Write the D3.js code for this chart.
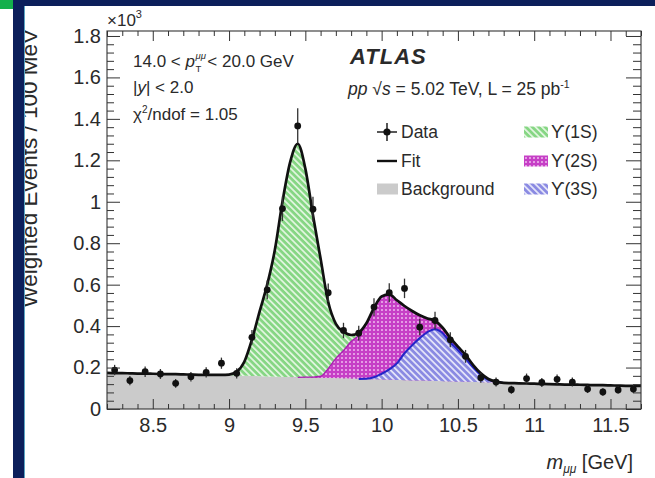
<!DOCTYPE html>
<html>
<head>
<meta charset="utf-8">
<script src="https://cdn.jsdelivr.net/npm/d3@7"></script>
<style>
  body { margin: 0; background: #fff; }
  svg { display: block; }
  text { font-family: "Liberation Sans", Arial, Helvetica, sans-serif; fill: #2a2a2a; }
</style>
</head>
<body>
<svg id="chart" width="655" height="478"></svg>
<script>
// Axis settings
const xDomain = [8.2, 11.7];
const yDomain = [0, 1.824];
const xTicks = [8.5, 9, 9.5, 10, 10.5, 11, 11.5];
const xTickLabels = ["8.5", "9", "9.5", "10", "10.5", "11", "11.5"];
const yTicks = [0, 0.2, 0.4, 0.6, 0.8, 1.0, 1.2, 1.4, 1.6, 1.8];
const yTickLabels = ["0", "0.2", "0.4", "0.6", "0.8", "1", "1.2", "1.4", "1.6", "1.8"];

// Measured dimuon spectrum (x10^3 weighted events per 100 MeV)
const dataMass = [8.25, 8.35, 8.45, 8.55, 8.65, 8.75, 8.85, 8.95, 9.05, 9.15,
                  9.25, 9.35, 9.45, 9.55, 9.65, 9.75, 9.85, 9.95, 10.05, 10.15,
                  10.25, 10.35, 10.45, 10.55, 10.65, 10.75, 10.85, 10.95, 11.05, 11.15,
                  11.25, 11.35, 11.45, 11.55, 11.65];
const dataVal = [0.188, 0.137, 0.180, 0.169, 0.124, 0.156, 0.177, 0.221, 0.172, 0.346,
                 0.575, 0.967, 1.366, 0.964, 0.561, 0.379, 0.366, 0.492, 0.561, 0.582,
                 0.395, 0.427, 0.334, 0.254, 0.151, 0.130, 0.093, 0.147, 0.128, 0.143,
                 0.130, 0.096, 0.082, 0.092, 0.096];
const dataErr = [0.025, 0.022, 0.025, 0.024, 0.021, 0.023, 0.025, 0.027, 0.025, 0.035,
                 0.045, 0.060, 0.085, 0.060, 0.045, 0.037, 0.036, 0.042, 0.046, 0.047,
                 0.039, 0.042, 0.036, 0.031, 0.024, 0.022, 0.019, 0.024, 0.022, 0.023,
                 0.022, 0.019, 0.018, 0.019, 0.019];

// Fit components on a 50 MeV grid
const fitMass = [8.20, 8.25, 8.30, 8.35, 8.40, 8.45, 8.50, 8.55, 8.60, 8.65,
                 8.70, 8.75, 8.80, 8.85, 8.90, 8.95, 9.00, 9.05, 9.10, 9.15,
                 9.20, 9.25, 9.30, 9.35, 9.40, 9.45, 9.50, 9.55, 9.60, 9.65,
                 9.70, 9.75, 9.80, 9.85, 9.90, 9.95, 10.00, 10.05, 10.10, 10.15,
                 10.20, 10.25, 10.30, 10.35, 10.40, 10.45, 10.50, 10.55, 10.60, 10.65,
                 10.70, 10.75, 10.80, 10.85, 10.90, 10.95, 11.00, 11.05, 11.10, 11.15,
                 11.20, 11.25, 11.30, 11.35, 11.40, 11.45, 11.50, 11.55, 11.60, 11.65,
                 11.70];
const bkg = [0.174, 0.173, 0.173, 0.172, 0.171, 0.171, 0.170, 0.169, 0.168, 0.168,
             0.167, 0.166, 0.165, 0.165, 0.164, 0.163, 0.162, 0.161, 0.160, 0.159,
             0.158, 0.157, 0.156, 0.155, 0.154, 0.153, 0.152, 0.151, 0.150, 0.149,
             0.148, 0.147, 0.146, 0.145, 0.144, 0.143, 0.142, 0.141, 0.140, 0.139,
             0.138, 0.137, 0.136, 0.135, 0.134, 0.133, 0.132, 0.131, 0.130, 0.129,
             0.128, 0.127, 0.126, 0.125, 0.124, 0.123, 0.122, 0.121, 0.120, 0.119,
             0.118, 0.118, 0.117, 0.116, 0.115, 0.115, 0.114, 0.113, 0.112, 0.112,
             0.111];
const ups1S = [0, 0, 0, 0, 0, 0, 0, 0, 0, 0,
               0, 0, 0, 0, 0.001, 0.002, 0.004, 0.019, 0.068, 0.176,
               0.312, 0.443, 0.611, 0.845, 1.036, 1.127, 1.006, 0.781, 0.567, 0.321,
               0.167, 0.091, 0.031, 0.014, 0.004, 0.001, 0, 0, 0, 0,
               0, 0, 0, 0, 0, 0, 0, 0, 0, 0,
               0, 0, 0, 0, 0, 0, 0, 0, 0, 0,
               0, 0, 0, 0, 0, 0, 0, 0, 0, 0,
               0];
const ups2S = [0, 0, 0, 0, 0, 0, 0, 0, 0, 0,
               0, 0, 0, 0, 0, 0, 0, 0, 0, 0,
               0, 0, 0, 0, 0, 0, 0.002, 0.003, 0.008, 0.046,
               0.096, 0.135, 0.180, 0.210, 0.264, 0.334, 0.373, 0.362, 0.305, 0.228,
               0.165, 0.110, 0.066, 0.041, 0.026, 0.022, 0.016, 0.017, 0.012, 0.008,
               0.004, 0.001, 0, 0, 0, 0, 0, 0, 0, 0,
               0, 0, 0, 0, 0, 0, 0, 0, 0, 0,
               0];
const ups3S = [0, 0, 0, 0, 0, 0, 0, 0, 0, 0,
               0, 0, 0, 0, 0, 0, 0, 0, 0, 0,
               0, 0, 0, 0, 0, 0, 0, 0, 0, 0,
               0, 0, 0, 0, 0.002, 0.010, 0.028, 0.050, 0.080, 0.130,
               0.170, 0.205, 0.235, 0.250, 0.232, 0.188, 0.153, 0.113, 0.070, 0.035,
               0.013, 0.004, 0, 0, 0, 0, 0, 0, 0, 0,
               0, 0, 0, 0, 0, 0, 0, 0, 0, 0,
               0];

const svg = d3.select("#chart");
const plot = { left: 107, right: 641, top: 31, bottom: 409 };
const x = d3.scaleLinear(xDomain, [plot.left, plot.right]);
const y = d3.scaleLinear(yDomain, [plot.bottom, plot.top]);

// Hatch patterns
const defs = svg.append("defs");
const p1 = defs.append("pattern").attr("id", "hatch1S").attr("patternUnits", "userSpaceOnUse")
  .attr("width", 4.5).attr("height", 4.5).attr("patternTransform", "rotate(-45)");
p1.append("rect").attr("width", 4.5).attr("height", 4.5).attr("fill", "#86d684");
p1.append("rect").attr("width", 1.7).attr("height", 4.5).attr("fill", "#e4f6e2");

const p2 = defs.append("pattern").attr("id", "hatch2S").attr("patternUnits", "userSpaceOnUse")
  .attr("width", 4).attr("height", 4);
p2.append("rect").attr("width", 4).attr("height", 4).attr("fill", "#c63fc6");
p2.append("circle").attr("cx", 2).attr("cy", 2).attr("r", 0.95).attr("fill", "#f2c4f2");

const p3 = defs.append("pattern").attr("id", "hatch3S").attr("patternUnits", "userSpaceOnUse")
  .attr("width", 4.5).attr("height", 4.5).attr("patternTransform", "rotate(-45)");
p3.append("rect").attr("width", 4.5).attr("height", 4.5).attr("fill", "#8a8ae2");
p3.append("rect").attr("width", 1.8).attr("height", 4.5).attr("fill", "#e2e2f8");

defs.append("clipPath").attr("id", "plotClip").append("rect")
  .attr("x", plot.left).attr("y", plot.top)
  .attr("width", plot.right - plot.left).attr("height", plot.bottom - plot.top);

// Stacked components: background, 3S, 2S, 1S
const rows = fitMass.map((m, i) => ({
  m,
  b: bkg[i],
  s3: bkg[i] + ups3S[i],
  s2: bkg[i] + ups3S[i] + ups2S[i],
  tot: bkg[i] + ups3S[i] + ups2S[i] + ups1S[i]
}));

const curve = d3.curveMonotoneX;
const g = svg.append("g").attr("clip-path", "url(#plotClip)");

g.append("path").datum(rows).attr("fill", "#cbcbcb")
  .attr("d", d3.area().x(d => x(d.m)).y0(y(0)).y1(d => y(d.b)).curve(curve));

g.append("path").datum(rows).attr("fill", "url(#hatch1S)")
  .attr("d", d3.area().x(d => x(d.m)).y0(d => y(d.b)).y1(d => y(d.tot)).curve(curve));

g.append("path").datum(rows).attr("fill", "url(#hatch2S)")
  .attr("d", d3.area().x(d => x(d.m)).y0(d => y(d.b)).y1(d => y(d.s2)).curve(curve));

g.append("path").datum(rows).attr("fill", "url(#hatch3S)")
  .attr("d", d3.area().x(d => x(d.m)).y0(d => y(d.b)).y1(d => y(d.s3)).curve(curve));

// Component outlines
const near = (arr, i) => arr[i] > 0 || (i > 0 && arr[i - 1] > 0) || (i < arr.length - 1 && arr[i + 1] > 0);
g.append("path").datum(rows).attr("fill", "none").attr("stroke", "#a81fb0").attr("stroke-width", 1.3)
  .attr("d", d3.line().defined((d, i) => near(ups2S, i)).x(d => x(d.m)).y(d => y(d.s2)).curve(curve));
g.append("path").datum(rows).attr("fill", "none").attr("stroke", "#2424c8").attr("stroke-width", 2)
  .attr("d", d3.line().defined((d, i) => near(ups3S, i)).x(d => x(d.m)).y(d => y(d.s3)).curve(curve));

// Total fit
g.append("path").datum(rows).attr("fill", "none").attr("stroke", "#111").attr("stroke-width", 2.7)
  .attr("d", d3.line().x(d => x(d.m)).y(d => y(d.tot)).curve(curve));

// Data points with statistical errors
const pts = dataMass.map((m, i) => ({ m, v: dataVal[i], e: dataErr[i] }));
const dg = g.append("g");
dg.selectAll("line").data(pts).join("line")
  .attr("x1", d => x(d.m)).attr("x2", d => x(d.m))
  .attr("y1", d => y(d.v - d.e)).attr("y2", d => y(d.v + d.e))
  .attr("stroke", "#333").attr("stroke-width", 1.3);
dg.selectAll("circle").data(pts).join("circle")
  .attr("cx", d => x(d.m)).attr("cy", d => y(d.v)).attr("r", 3.4).attr("fill", "#111");

// Axes with inward ticks, ROOT style
const minorX = d3.range(82, 118).map(i => i / 10).filter(v => !xTicks.some(t => Math.abs(t - v) < 1e-6));
const minorY = d3.range(0, 46).map(i => i * 0.04).filter(v => !yTicks.some(t => Math.abs(t - v) < 1e-6));

function styleAxis(sel, fontSize) {
  sel.select(".domain").remove();
  sel.selectAll(".tick line").attr("stroke", "#333").attr("stroke-width", 1);
  sel.selectAll(".tick text").attr("font-size", fontSize).attr("fill", "#2a2a2a")
    .attr("font-family", "'Liberation Sans', Arial, sans-serif");
}

svg.append("g").attr("transform", `translate(0,${plot.bottom})`)
  .call(d3.axisBottom(x).tickValues(xTicks).tickFormat((d, i) => xTickLabels[i]).tickSize(-10).tickPadding(9))
  .call(s => styleAxis(s, 20));
svg.append("g").attr("transform", `translate(0,${plot.bottom})`)
  .call(d3.axisBottom(x).tickValues(minorX).tickFormat("").tickSize(-5)).call(s => styleAxis(s, 0));
svg.append("g").attr("transform", `translate(0,${plot.top})`)
  .call(d3.axisTop(x).tickValues(xTicks).tickFormat("").tickSize(-10)).call(s => styleAxis(s, 0));
svg.append("g").attr("transform", `translate(0,${plot.top})`)
  .call(d3.axisTop(x).tickValues(minorX).tickFormat("").tickSize(-5)).call(s => styleAxis(s, 0));

svg.append("g").attr("transform", `translate(${plot.left},0)`)
  .call(d3.axisLeft(y).tickValues(yTicks).tickFormat((d, i) => yTickLabels[i]).tickSize(-13).tickPadding(6))
  .call(s => styleAxis(s, 20));
svg.append("g").attr("transform", `translate(${plot.left},0)`)
  .call(d3.axisLeft(y).tickValues(minorY).tickFormat("").tickSize(-7)).call(s => styleAxis(s, 0));
svg.append("g").attr("transform", `translate(${plot.right},0)`)
  .call(d3.axisRight(y).tickValues(yTicks).tickFormat("").tickSize(-15)).call(s => styleAxis(s, 0));
svg.append("g").attr("transform", `translate(${plot.right},0)`)
  .call(d3.axisRight(y).tickValues(minorY).tickFormat("").tickSize(-8)).call(s => styleAxis(s, 0));

svg.append("rect").attr("x", plot.left).attr("y", plot.top)
  .attr("width", plot.right - plot.left).attr("height", plot.bottom - plot.top)
  .attr("fill", "none").attr("stroke", "#333").attr("stroke-width", 1.1);

// Axis titles
const mult = svg.append("text").attr("x", plot.left).attr("y", 26).attr("font-size", 17);
mult.append("tspan").text("×10");
mult.append("tspan").attr("font-size", 11).attr("dy", -8).text("3");

svg.append("text").attr("transform", "translate(37,29) rotate(-90)")
  .attr("text-anchor", "end").attr("font-size", 22.5).text("Weighted Events / 100 MeV");

const xt = svg.append("text").attr("x", 633).attr("y", 469).attr("text-anchor", "end").attr("font-size", 20);
xt.append("tspan").attr("font-style", "italic").text("m");
xt.append("tspan").attr("font-size", 12).attr("font-style", "italic").attr("dy", 3.5).text("μμ");
xt.append("tspan").attr("dy", -3.5).text(" [GeV]");

// Selection and fit annotations
const ax = 133;
const t1 = svg.append("text").attr("x", ax).attr("y", 67).attr("font-size", 17);
t1.append("tspan").text("14.0 < ");
t1.append("tspan").attr("font-style", "italic").text("p");
const w1 = t1.node().getComputedTextLength();
svg.append("text").attr("x", ax + w1 + 0.5).attr("y", 72).attr("font-size", 9.5).text("T");
const sup = svg.append("text").attr("x", ax + w1 + 0.5).attr("y", 59).attr("font-size", 9.5)
  .attr("font-style", "italic").text("μμ");
const wsup = sup.node().getComputedTextLength();
svg.append("text").attr("x", ax + w1 + wsup + 2).attr("y", 67).attr("font-size", 17).text(" < 20.0 GeV");

const t2 = svg.append("text").attr("x", ax).attr("y", 93).attr("font-size", 17);
t2.append("tspan").text("|");
t2.append("tspan").attr("font-style", "italic").text("y");
t2.append("tspan").text("| < 2.0");

const t3 = svg.append("text").attr("x", ax).attr("y", 120).attr("font-size", 17);
t3.append("tspan").text("χ");
t3.append("tspan").attr("font-size", 10).attr("dy", -7).text("2");
t3.append("tspan").attr("dy", 7).text("/ndof = 1.05");

svg.append("text").attr("x", 350).attr("y", 64).attr("font-size", 22)
  .attr("font-weight", "bold").attr("font-style", "italic").attr("letter-spacing", 1)
  .attr("fill", "#1a1a1a").text("ATLAS");

const t4 = svg.append("text").attr("x", 348).attr("y", 95).attr("font-size", 17.5);
t4.append("tspan").attr("font-style", "italic").text("pp");
t4.append("tspan").text(" √");
t4.append("tspan").attr("font-style", "italic").text("s");
t4.append("tspan").text(" = 5.02 TeV, L = 25 pb");
t4.append("tspan").attr("font-size", 10.5).attr("dy", -7).text("-1");

// Legend
const lg = svg.append("g");
const lx = 387, rowY = [132, 161, 189];
lg.append("line").attr("x1", lx - 10).attr("x2", lx + 10).attr("y1", rowY[0]).attr("y2", rowY[0]).attr("stroke", "#111").attr("stroke-width", 1.4);
lg.append("line").attr("x1", lx).attr("x2", lx).attr("y1", rowY[0] - 9).attr("y2", rowY[0] + 9).attr("stroke", "#111").attr("stroke-width", 1.4);
lg.append("circle").attr("cx", lx).attr("cy", rowY[0]).attr("r", 3.6).attr("fill", "#111");
lg.append("line").attr("x1", lx - 10).attr("x2", lx + 10).attr("y1", rowY[1]).attr("y2", rowY[1]).attr("stroke", "#111").attr("stroke-width", 2.4);
lg.append("rect").attr("x", lx - 10).attr("y", rowY[2] - 5.5).attr("width", 21).attr("height", 11).attr("fill", "#cbcbcb");

const leftLabels = ["Data", "Fit", "Background"];
leftLabels.forEach((t, i) => lg.append("text").attr("x", 401).attr("y", rowY[i] + 6).attr("font-size", 17.5).text(t));

const rightFills = ["url(#hatch1S)", "url(#hatch2S)", "url(#hatch3S)"];
const rightLabels = ["ϒ(1S)", "ϒ(2S)", "ϒ(3S)"];
rightFills.forEach((f, i) => lg.append("rect").attr("x", 524).attr("y", rowY[i] - 5.5)
  .attr("width", 24).attr("height", 11).attr("fill", f));
rightLabels.forEach((t, i) => lg.append("text").attr("x", 551).attr("y", rowY[i] + 6).attr("font-size", 17.5).text(t));

// Page frame
svg.append("rect").attr("x", 13).attr("y", 0).attr("width", 642).attr("height", 6).attr("fill", "#0c1f5b");
svg.append("rect").attr("x", 13).attr("y", 0).attr("width", 11).attr("height", 478).attr("fill", "#0c1f5b");
svg.append("rect").attr("x", 24).attr("y", 6).attr("width", 1).attr("height", 472).attr("fill", "#5aa6c4");
svg.append("rect").attr("x", 0).attr("y", 0).attr("width", 13).attr("height", 9).attr("fill", "#14b04c");
</script>
</body>
</html>
